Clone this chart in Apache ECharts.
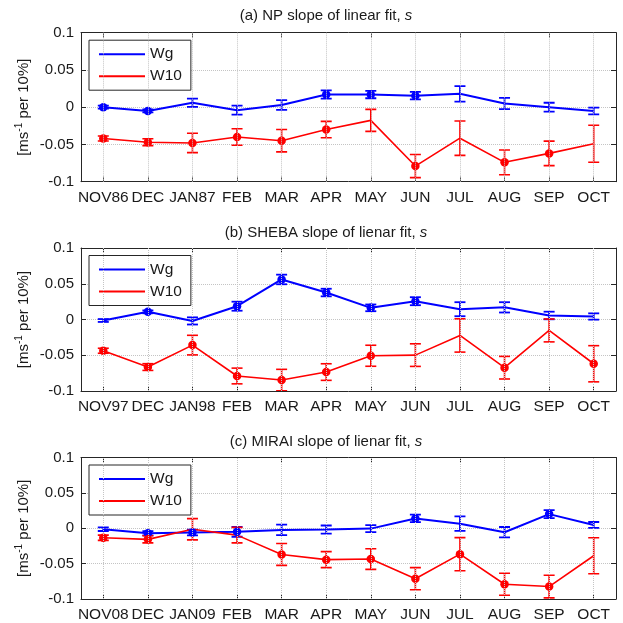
<!DOCTYPE html>
<html>
<head>
<meta charset="utf-8">
<script src="https://cdn.jsdelivr.net/npm/echarts@6/dist/echarts.min.js"></script>
<style>html,body{margin:0;padding:0;background:#fff}#c{width:623px;height:623px}</style>
</head>
<body>
<div id="c"></div>
<script>
// ---- Data ----
const npTicks = ['NOV86','DEC','JAN87','FEB','MAR','APR','MAY','JUN','JUL','AUG','SEP','OCT'];
const shTicks = ['NOV97','DEC','JAN98','FEB','MAR','APR','MAY','JUN','JUL','AUG','SEP','OCT'];
const miTicks = ['NOV08','DEC','JAN09','FEB','MAR','APR','MAY','JUN','JUL','AUG','SEP','OCT'];
const yTicks = [-0.1, -0.05, 0, 0.05, 0.1];

const npWg     = [0.000,-0.005,0.006,-0.004,0.003,0.017,0.017,0.0155,0.018,0.005,0.000,-0.005];
const npWgErr  = [0.002,0.002,0.0055,0.006,0.0065,0.0055,0.005,0.005,0.0104,0.0075,0.006,0.0045];
const npW10    = [-0.042,-0.047,-0.048,-0.040,-0.045,-0.030,-0.0177,-0.079,-0.0416,-0.074,-0.062,-0.049];
const npW10Err = [0.0033,0.0046,0.013,0.011,0.015,0.011,0.0148,0.0155,0.023,0.0166,0.0164,0.0248];
const npWgDot  = [1,1,0,0,0,1,1,1,0,0,0,0];
const npW10Dot = [1,1,1,1,1,1,0,1,0,1,1,0];

const shWg     = [-0.0014,0.0107,-0.002,0.0186,0.056,0.0377,0.0163,0.0256,0.0144,0.017,0.0056,0.0042];
const shWgErr  = [0.002,0.002,0.005,0.0063,0.0067,0.0053,0.0047,0.0056,0.0098,0.0072,0.0053,0.0044];
const shW10    = [-0.0437,-0.0665,-0.0358,-0.079,-0.0847,-0.0735,-0.0507,-0.0498,-0.0223,-0.0674,-0.0153,-0.0619];
const shW10Err = [0.0035,0.0047,0.0137,0.011,0.015,0.0116,0.0147,0.0158,0.0233,0.0158,0.016,0.0253];
const shWgDot  = [0,1,0,1,1,1,1,1,0,0,0,0];
const shW10Dot = [1,1,1,1,1,1,1,0,0,1,0,1];

const miWg     = [-0.0014,-0.007,-0.006,-0.005,-0.0023,-0.0019,-0.0005,0.0139,0.0065,-0.0056,0.020,0.0046];
const miWgErr  = [0.0025,0.003,0.004,0.007,0.0074,0.0058,0.005,0.0053,0.0102,0.0074,0.0056,0.0042];
const miW10    = [-0.0134,-0.0157,-0.0014,-0.0097,-0.037,-0.0444,-0.0435,-0.0713,-0.0366,-0.0792,-0.0824,-0.0389];
const miW10Err = [0.0037,0.005,0.015,0.011,0.0155,0.0113,0.0146,0.0157,0.0234,0.0155,0.016,0.0255];
const miWgDot  = [0,1,1,1,0,0,0,1,0,0,1,0];
const miW10Dot = [1,1,0,0,1,1,1,1,1,1,1,0];

const titles = ['(a) NP slope of linear fit, ', '(b) SHEBA slope of lienar fit, ', '(c) MIRAI slope of lienar fit, '];

// ---- Layout ----
const FONT = 'Liberation Sans, Arial, Helvetica, sans-serif';
const TXT = '#1a1a1a';
const AX = '#262626';
const GRIDC = '#c4c4c4';
const BLUE = '#0000ff', RED = '#ff0000';
const panels = [
  {top: 32.7, height: 149, ticks: npTicks, wg: npWg, wgE: npWgErr, w10: npW10, w10E: npW10Err, wgD: npWgDot, w10D: npW10Dot, titleY: 3},
  {top: 248, height: 143, ticks: shTicks, wg: shWg, wgE: shWgErr, w10: shW10, w10E: shW10Err, wgD: shWgDot, w10D: shW10Dot, titleY: 220},
  {top: 457.5, height: 142, ticks: miTicks, wg: miWg, wgE: miWgErr, w10: miW10, w10E: miW10Err, wgD: miWgDot, w10D: miW10Dot, titleY: 429.5}
];

const grid = [], xAxis = [], yAxis = [], series = [], legend = [], title = [];

function errRender(color, lw) {
  return function (params, api) {
    const x = api.value(0), lo = api.value(1), hi = api.value(2);
    const a = api.coord([x, hi]), b = api.coord([x, lo]);
    const hw = 5.5;
    const st = {stroke: color, lineWidth: lw, fill: null};
    return {type: 'group', children: [
      {type: 'line', shape: {x1: a[0], y1: a[1], x2: b[0], y2: b[1]}, style: st},
      {type: 'line', shape: {x1: a[0] - hw, y1: a[1], x2: a[0] + hw, y2: a[1]}, style: st},
      {type: 'line', shape: {x1: b[0] - hw, y1: b[1], x2: b[0] + hw, y2: b[1]}, style: st}
    ]};
  };
}

panels.forEach((p, i) => {
  grid.push({left: 81, width: 535, top: p.top, height: p.height, containLabel: false});
  title.push({
    text: titles[i] + '{it|s}', left: 321, top: p.titleY, textAlign: 'center',
    textStyle: {fontFamily: FONT, fontSize: 15, fontWeight: 'normal', color: TXT,
      rich: {it: {fontFamily: FONT, fontSize: 15, fontStyle: 'italic', color: TXT}}}
  });
  const lineStyle = {color: AX, width: 1};
  // bottom x
  xAxis.push({
    type: 'category', gridIndex: i, data: p.ticks, boundaryGap: true, position: 'bottom',
    axisLine: {show: true, onZero: false, lineStyle},
    axisTick: {show: true, inside: true, alignWithLabel: true, length: 5, lineStyle},
    axisLabel: {fontFamily: FONT, fontSize: 15.5, color: TXT, margin: 8, interval: 0},
    splitLine: {show: false}
  });
  // top x
  xAxis.push({
    type: 'category', gridIndex: i, data: p.ticks, boundaryGap: true, position: 'top',
    axisLine: {show: true, onZero: false, lineStyle},
    axisTick: {show: true, inside: true, alignWithLabel: true, length: 5, lineStyle},
    axisLabel: {show: false}, splitLine: {show: false}
  });
  // left y
  yAxis.push({
    type: 'value', gridIndex: i, min: -0.1, max: 0.1, interval: 0.05, position: 'left',
    axisLine: {show: true, onZero: false, lineStyle},
    axisTick: {show: true, inside: true, length: 5, lineStyle},
    axisLabel: {fontFamily: FONT, fontSize: 15, color: TXT, margin: 7,
      formatter: v => { const t = yTicks.find(k => Math.abs(k - v) < 1e-9); return String(t); }},
    splitLine: {show: true, lineStyle: {color: GRIDC, type: 'dotted', width: 1}},
    name: '[ms{sup|-1} per 10%]', nameLocation: 'middle', nameGap: 47, nameRotate: 90,
    nameMoveOverlap: false,
    nameTextStyle: {fontFamily: FONT, fontSize: 15, color: TXT, lineHeight: 20,
      rich: {sup: {fontFamily: FONT, fontSize: 10, color: TXT, verticalAlign: 'top', lineHeight: 12}}}
  });
  // right y
  yAxis.push({
    type: 'value', gridIndex: i, min: -0.1, max: 0.1, interval: 0.05, position: 'right',
    axisLine: {show: true, onZero: false, lineStyle},
    axisTick: {show: true, inside: true, length: 5, lineStyle},
    axisLabel: {show: false}, splitLine: {show: false}
  });
  const xi = i * 2, yi = i * 2;
  const cats = p.ticks.map((_, k) => k);
  // vertical dotted grid lines at the category ticks
  series.push({
    type: 'line', name: 'xgrid' + i, xAxisIndex: xi, yAxisIndex: yi, z: 1, data: [],
    silent: true,
    markLine: {
      silent: true, symbol: ['none', 'none'], label: {show: false}, animation: false,
      lineStyle: {color: GRIDC, type: 'dotted', width: 1},
      emphasis: {disabled: true},
      data: p.ticks.map(t => ({xAxis: t}))
    }
  });
  series.push({
    type: 'custom', name: 'WgErr' + i, xAxisIndex: xi, yAxisIndex: yi, clip: true, z: 3,
    renderItem: errRender(BLUE, 1.8), silent: true,
    data: cats.map(k => [k, p.wg[k] - p.wgE[k], p.wg[k] + p.wgE[k]])
  });
  series.push({
    type: 'custom', name: 'W10Err' + i, xAxisIndex: xi, yAxisIndex: yi, clip: true, z: 3,
    renderItem: errRender(RED, 1.6), silent: true,
    data: cats.map(k => [k, p.w10[k] - p.w10E[k], p.w10[k] + p.w10E[k]])
  });
  const dotsWg = p.wgD, dotsW10 = p.w10D;
  series.push({
    type: 'line', name: 'Wg', xAxisIndex: xi, yAxisIndex: yi, z: 4, data: p.wg,
    color: BLUE, lineStyle: {color: BLUE, width: 2}, itemStyle: {color: BLUE},
    symbol: 'circle', showSymbol: true, symbolSize: (v, prm) => dotsWg[prm.dataIndex] ? 8.5 : 0,
    animation: false
  });
  series.push({
    type: 'line', name: 'W10', xAxisIndex: xi, yAxisIndex: yi, z: 4, data: p.w10,
    color: RED, lineStyle: {color: RED, width: 1.6}, itemStyle: {color: RED},
    symbol: 'circle', showSymbol: true, symbolSize: (v, prm) => dotsW10[prm.dataIndex] ? 8.5 : 0,
    animation: false
  });
  legend.push({
    data: ['Wg', 'W10'], orient: 'vertical', left: 89, top: p.top + 7.5,
    backgroundColor: '#fff', borderColor: AX, borderWidth: 1, borderRadius: 0,
    padding: [6, 9, 6, 10], itemWidth: 46, itemHeight: 2, itemGap: 6, icon: 'rect',
    selectedMode: false,
    textStyle: {fontFamily: FONT, fontSize: 15.5, color: TXT}
  });
});

const chart = echarts.init(document.getElementById('c'), null, {renderer: 'canvas'});
chart.setOption({
  animation: false,
  backgroundColor: '#fff',
  title, grid, xAxis, yAxis, series, legend
});
</script>
</body>
</html>
